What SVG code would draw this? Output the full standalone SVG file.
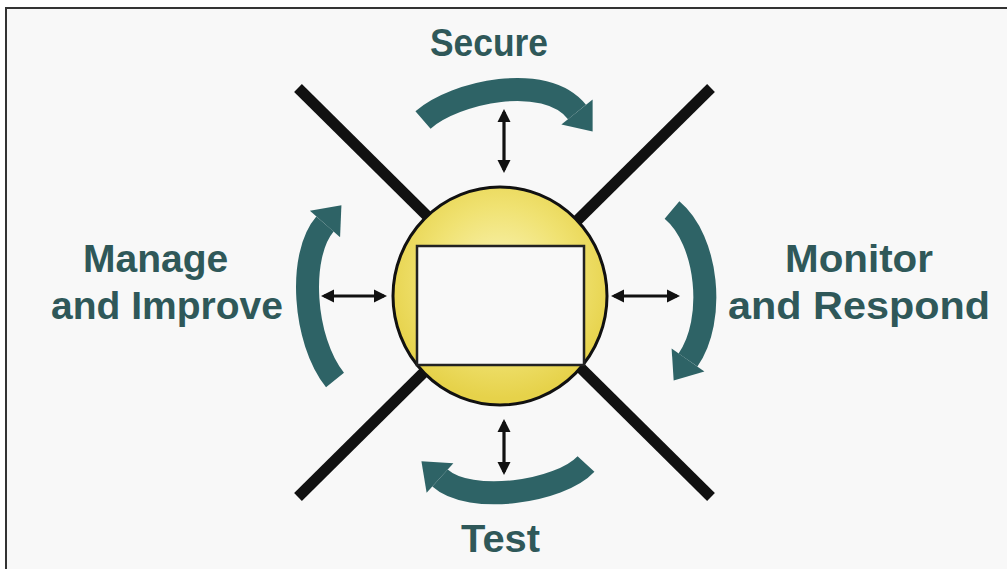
<svg xmlns="http://www.w3.org/2000/svg" width="1007" height="569" viewBox="0 0 1007 569">
<defs>
<style>
.lbl{font-family:"Liberation Sans",Arial,sans-serif;font-weight:bold;font-size:39px;fill:#2f5859}
.xline{stroke:#111;stroke-width:11;fill:none}
.band{stroke:#2e6366;stroke-width:23;fill:none}
.dbl{stroke:#111;stroke-width:3.2;fill:none;marker-start:url(#sh);marker-end:url(#sh)}
</style>
<marker id="big" markerUnits="userSpaceOnUse" markerWidth="30" markerHeight="44" refX="0" refY="20" orient="auto" overflow="visible">
<path d="M0,0 L25,20 L0,40 Z" fill="#2e6366"/>
</marker>
<marker id="sh" markerUnits="userSpaceOnUse" markerWidth="14" markerHeight="14" refX="10" refY="6.5" orient="auto-start-reverse" overflow="visible">
<path d="M0,0 L13,6.5 L0,13 Z" fill="#111"/>
</marker>
<radialGradient id="yg" cx="50%" cy="42%" r="55%">
<stop offset="0" stop-color="#faf4b8"/>
<stop offset="0.6" stop-color="#f0e272"/>
<stop offset="1" stop-color="#e6d24a"/>
</radialGradient>
</defs>
<rect width="1007" height="569" fill="#ffffff"/>
<rect x="6" y="8" width="1001" height="561" fill="#f8f8f8"/>
<path d="M5,8 H1007 M6,8 V569" stroke="#333" stroke-width="2" fill="none"/>

<g id="cross">
<line class="xline" x1="298" y1="88" x2="711" y2="497"/>
<line class="xline" x1="711" y1="88" x2="298" y2="497"/>
</g>

<g id="center">
<ellipse cx="500" cy="296" rx="107" ry="109" fill="url(#yg)" stroke="#111" stroke-width="3"/>
<rect x="417" y="246" width="167" height="119" fill="#f9f9f9" stroke="#222" stroke-width="2.5"/>
</g>

<g id="connectors">
<path class="band" d="M423,120 C455,92 545,72 577,112" marker-end="url(#big)"/>
<path class="band" d="M672,210 C708,240 716,320 688,360" marker-end="url(#big)"/>
<path class="band" d="M586,464 C560,492 470,505 440,478" marker-end="url(#big)"/>
<path class="band" d="M335,380 C303,340 298,255 325,224" marker-end="url(#big)"/>
<line class="dbl" x1="504" y1="112" x2="504" y2="170"/>
<line class="dbl" x1="504" y1="422" x2="504" y2="472"/>
<line class="dbl" x1="324" y1="296" x2="384" y2="296"/>
<line class="dbl" x1="614" y1="296" x2="677" y2="296"/>
</g>

<g id="secure"><text class="lbl" x="430" y="56" textLength="118" lengthAdjust="spacingAndGlyphs">Secure</text></g>
<g id="monitor">
<text class="lbl" x="785" y="272" textLength="148" lengthAdjust="spacingAndGlyphs">Monitor</text>
<text class="lbl" x="728" y="319" textLength="262" lengthAdjust="spacingAndGlyphs">and Respond</text>
</g>
<g id="test"><text class="lbl" x="461" y="552" textLength="79" lengthAdjust="spacingAndGlyphs">Test</text></g>
<g id="manage">
<text class="lbl" x="83" y="272">Manage</text>
<text class="lbl" x="283" y="319" text-anchor="end">and Improve</text>
</g>
</svg>
